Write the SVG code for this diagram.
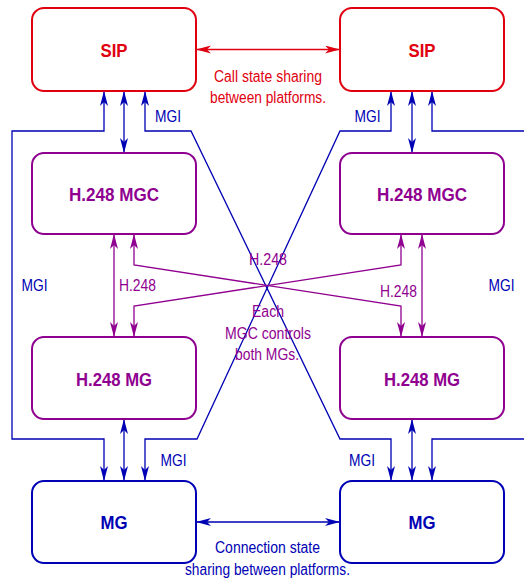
<svg xmlns="http://www.w3.org/2000/svg" width="524" height="582" viewBox="0 0 524 582">
<style>
.box{fill:#fff;stroke-width:2}
.red{stroke:#e00010}
.pur{stroke:#900090}
.blu{stroke:#0000b4}
.ln{fill:none;stroke-width:1.3}
.b{font-family:"Liberation Sans",Arial,sans-serif;font-weight:bold;font-size:19px;text-anchor:middle}
.t{font-family:"Liberation Sans",Arial,sans-serif;font-size:16px;text-anchor:middle}
.fr{fill:#e00010}.fp{fill:#900090}.fb{fill:#0000b4}
</style>
<defs>
<marker id="ar" markerUnits="userSpaceOnUse" markerWidth="16" markerHeight="9" refX="15" refY="4" orient="auto-start-reverse"><path d="M0,0 L15,4 L0,8 L4,4 z" fill="#e00010"/></marker>
<marker id="ap" markerUnits="userSpaceOnUse" markerWidth="16" markerHeight="9" refX="15" refY="4" orient="auto-start-reverse"><path d="M0,0 L15,4 L0,8 L4,4 z" fill="#900090"/></marker>
<marker id="ab" markerUnits="userSpaceOnUse" markerWidth="16" markerHeight="9" refX="15" refY="4" orient="auto-start-reverse"><path d="M0,0 L15,4 L0,8 L4,4 z" fill="#0000b4"/></marker>
</defs>
<g id="connectors">
<path class="ln red" d="M196,49.5 L340,49.5" marker-start="url(#ar)" marker-end="url(#ar)"/>
<path class="ln blu" d="M196,522 L340,522" marker-start="url(#ab)" marker-end="url(#ab)"/>
<path class="ln blu" d="M124,91 L124,153" marker-start="url(#ab)" marker-end="url(#ab)"/>
<path class="ln blu" d="M412,91 L412,153" marker-start="url(#ab)" marker-end="url(#ab)"/>
<path class="ln blu" d="M124,419 L124,481" marker-start="url(#ab)" marker-end="url(#ab)"/>
<path class="ln blu" d="M412,419 L412,481" marker-start="url(#ab)" marker-end="url(#ab)"/>
<path class="ln blu" d="M104,91 L104,131 L12,131 L12,439 L104,439 L104,481" marker-start="url(#ab)" marker-end="url(#ab)"/>
<path class="ln blu" d="M432,91 L432,131 L526,131 L526,439 L432,439 L432,481" marker-start="url(#ab)" marker-end="url(#ab)"/>
<path class="ln blu" d="M145,91 L145,131 L191,131 L340,439 L391,439 L391,481" marker-start="url(#ab)" marker-end="url(#ab)"/>
<path class="ln blu" d="M391,91 L391,131 L340,131 L197,439 L145,439 L145,481" marker-start="url(#ab)" marker-end="url(#ab)"/>
<path class="ln pur" d="M114,234 L114,337" marker-start="url(#ap)" marker-end="url(#ap)"/>
<path class="ln pur" d="M422,234 L422,337" marker-start="url(#ap)" marker-end="url(#ap)"/>
<path class="ln pur" d="M134,234 L134,265 L401,306 L401,337" marker-start="url(#ap)" marker-end="url(#ap)"/>
<path class="ln pur" d="M401,234 L401,265 L134,306 L134,337" marker-start="url(#ap)" marker-end="url(#ap)"/>
</g>
<g id="sip-left"><rect class="box red" x="32" y="8" width="164" height="83" rx="12"/><text class="b fr" x="114" y="57" textLength="27" lengthAdjust="spacingAndGlyphs">SIP</text></g>
<g id="sip-right"><rect class="box red" x="340" y="8" width="164" height="83" rx="12"/><text class="b fr" x="422" y="57" textLength="27" lengthAdjust="spacingAndGlyphs">SIP</text></g>
<g id="mgc-left"><rect class="box pur" x="32" y="153" width="164" height="81" rx="12"/><text class="b fp" x="114" y="201" textLength="90" lengthAdjust="spacingAndGlyphs">H.248 MGC</text></g>
<g id="mgc-right"><rect class="box pur" x="340" y="153" width="164" height="81" rx="12"/><text class="b fp" x="422" y="201" textLength="90" lengthAdjust="spacingAndGlyphs">H.248 MGC</text></g>
<g id="h248mg-left"><rect class="box pur" x="32" y="337" width="164" height="82" rx="12"/><text class="b fp" x="114" y="386" textLength="76" lengthAdjust="spacingAndGlyphs">H.248 MG</text></g>
<g id="h248mg-right"><rect class="box pur" x="340" y="337" width="164" height="82" rx="12"/><text class="b fp" x="422" y="386" textLength="76" lengthAdjust="spacingAndGlyphs">H.248 MG</text></g>
<g id="mg-left"><rect class="box blu" x="32" y="481" width="164" height="82" rx="12"/><text class="b fb" x="114" y="529" textLength="27" lengthAdjust="spacingAndGlyphs">MG</text></g>
<g id="mg-right"><rect class="box blu" x="340" y="481" width="164" height="82" rx="12"/><text class="b fb" x="422" y="529" textLength="27" lengthAdjust="spacingAndGlyphs">MG</text></g>
<g id="labels">
<text class="t fr" x="268" y="81.5" textLength="108" lengthAdjust="spacingAndGlyphs">Call state sharing</text>
<text class="t fr" x="268" y="103" textLength="116" lengthAdjust="spacingAndGlyphs">between platforms.</text>
<text class="t fb" x="267.5" y="552.5" textLength="105" lengthAdjust="spacingAndGlyphs">Connection state</text>
<text class="t fb" x="267.5" y="575" textLength="165" lengthAdjust="spacingAndGlyphs">sharing between platforms.</text>
<text class="t fb" x="168" y="121.5" textLength="26" lengthAdjust="spacingAndGlyphs">MGI</text>
<text class="t fb" x="367.5" y="121.5" textLength="26" lengthAdjust="spacingAndGlyphs">MGI</text>
<text class="t fb" x="34.5" y="291" textLength="26" lengthAdjust="spacingAndGlyphs">MGI</text>
<text class="t fb" x="501.5" y="291" textLength="26" lengthAdjust="spacingAndGlyphs">MGI</text>
<text class="t fb" x="173.5" y="466" textLength="26" lengthAdjust="spacingAndGlyphs">MGI</text>
<text class="t fb" x="362" y="466" textLength="26" lengthAdjust="spacingAndGlyphs">MGI</text>
<text class="t fp" x="137.5" y="291" textLength="37" lengthAdjust="spacingAndGlyphs">H.248</text>
<text class="t fp" x="398.5" y="297" textLength="37" lengthAdjust="spacingAndGlyphs">H.248</text>
<text class="t fp" x="268" y="265" textLength="38" lengthAdjust="spacingAndGlyphs">H.248</text>
<text class="t fp" x="268" y="317" textLength="32" lengthAdjust="spacingAndGlyphs">Each</text>
<text class="t fp" x="268" y="338.5" textLength="86" lengthAdjust="spacingAndGlyphs">MGC controls</text>
<text class="t fp" x="267" y="360" textLength="64" lengthAdjust="spacingAndGlyphs">both MGs.</text>
</g>
</svg>
